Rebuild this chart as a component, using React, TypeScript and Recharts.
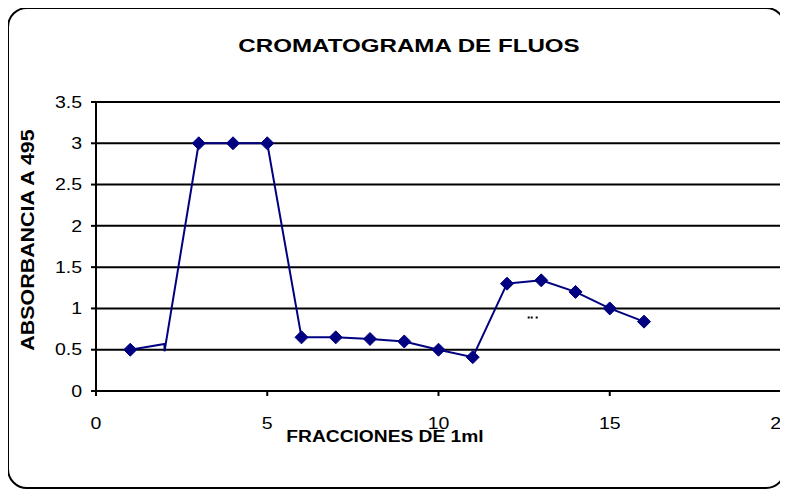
import {
  CartesianGrid,
  Line,
  LineChart,
  ReferenceDot,
  ReferenceLine,
  XAxis,
  YAxis,
} from "recharts";

// Fraction number (1 ml each) and absorbance at 495 nm.
// Fraction 2 appears twice: the original draws a short vertical stroke there, no marker.
const FRACTIONS = [1, 2, 2, 3, 4, 5, 6, 7, 8, 9, 10, 11, 12, 13, 14, 15, 16];
const ABSORBANCE = [0.5, 0.57, 0.48, 3, 3, 3, 0.65, 0.65, 0.63, 0.6, 0.5, 0.41, 1.3, 1.34, 1.2, 1.0, 0.84];
const NO_MARKER = [2];

const X_TICKS = [0, 5, 10, 15, 20];
const Y_TICKS = [0, 0.5, 1, 1.5, 2, 2.5, 3, 3.5];

const TITLE = "CROMATOGRAMA DE FLUOS";
const X_LABEL = "FRACCIONES DE 1ml";
const Y_LABEL = "ABSORBANCIA A  495";

const NAVY = "#000080";
const FONT = "Arial, 'Liberation Sans', sans-serif";
const STRETCH = 1.22; // the source text is drawn a bit wide

const data = FRACTIONS.map((f, i) => ({ fraccion: f, abs: ABSORBANCE[i] }));

function Diamond(props: any) {
  const { cx, cy, payload, index } = props;
  if (NO_MARKER.includes(payload.fraccion) || cx == null) return <g key={index} />;
  const r = 6.5;
  return (
    <path
      key={index}
      d={`M${cx},${cy - r}L${cx + r},${cy}L${cx},${cy + r}L${cx - r},${cy}Z`}
      fill={NAVY}
      stroke={NAVY}
    />
  );
}

function XTick(props: any) {
  const { x, y, payload } = props;
  return (
    <g transform={`translate(${x},${y})`}>
      <text
        transform={`scale(${STRETCH},1)`}
        textAnchor="middle"
        dy={31}
        fontFamily={FONT}
        fontSize={16}
        fill="#000"
      >
        {payload.value}
      </text>
    </g>
  );
}

function YTick(props: any) {
  const { x, y, payload } = props;
  return (
    <g transform={`translate(${x},${y})`}>
      <text
        transform={`scale(${STRETCH},1)`}
        textAnchor="end"
        dy="0.36em"
        fontFamily={FONT}
        fontSize={16}
        fill="#000"
      >
        {payload.value}
      </text>
    </g>
  );
}

export default function App() {
  return (
    <div style={{ position: "relative", width: 788, height: 491, margin: "-8px 0 0 -8px", fontFamily: FONT }}>
      <div
        style={{
          position: "absolute",
          left: 7,
          top: 7,
          width: 779,
          height: 482,
          boxSizing: "border-box",
          border: "2px solid #000",
          borderRadius: 20,
          background: "#fff",
        }}
      />
      <div style={{ position: "absolute", inset: 0 }}>
        <LineChart
          width={788}
          height={491}
          data={data}
          margin={{ top: 102, right: 7, bottom: 60, left: 56 }}
        >
          <CartesianGrid horizontal vertical={false} stroke="#000" strokeWidth={2} />
          <XAxis
            dataKey="fraccion"
            type="number"
            domain={[0, 20]}
            ticks={X_TICKS}
            interval={0}
            tickSize={5}
            tickMargin={2}
            axisLine={{ stroke: "#000", strokeWidth: 2 }}
            tickLine={{ stroke: "#000", strokeWidth: 2 }}
            tick={<XTick />}
            height={40}
          />
          <YAxis
            dataKey="abs"
            type="number"
            domain={[0, 3.5]}
            ticks={Y_TICKS}
            interval={0}
            width={40}
            tickSize={5}
            tickMargin={9}
            axisLine={{ stroke: "#000", strokeWidth: 2 }}
            tickLine={{ stroke: "#000", strokeWidth: 2 }}
            tick={<YTick />}
          />
          <ReferenceLine x={20} stroke="#000" strokeWidth={2} ifOverflow="visible" />
          <Line
            type="linear"
            dataKey="abs"
            stroke={NAVY}
            strokeWidth={2}
            dot={Diamond}
            activeDot={false}
            isAnimationActive={false}
          />
          <ReferenceDot
            x={12.75}
            y={0.89}
            ifOverflow="visible"
            shape={(p: any) => (
              <g>
                <rect x={p.cx - 5} y={p.cy - 1} width={2} height={2} fill="#000" />
                <rect x={p.cx - 2} y={p.cy - 1} width={2} height={2} fill="#000" />
                <rect x={p.cx + 3} y={p.cy - 1} width={2} height={2} fill="#000" />
              </g>
            )}
          />
        </LineChart>
      </div>
      <div
        style={{
          position: "absolute",
          left: 409,
          top: 35,
          transform: `translateX(-50%) scaleX(1.27)`,
          fontSize: 19,
          fontWeight: "bold",
          lineHeight: "22px",
          whiteSpace: "nowrap",
        }}
      >
        {TITLE}
      </div>
      <div
        style={{
          position: "absolute",
          left: 385,
          top: 427,
          transform: `translateX(-50%) scaleX(1.2)`,
          fontSize: 16,
          fontWeight: "bold",
          lineHeight: "20px",
          whiteSpace: "nowrap",
        }}
      >
        {X_LABEL}
      </div>
      <div
        style={{
          position: "absolute",
          left: 28,
          top: 240,
          transform: `translate(-50%, -50%) rotate(-90deg) scaleX(1.19)`,
          fontSize: 18,
          fontWeight: "bold",
          lineHeight: "20px",
          whiteSpace: "nowrap",
        }}
      >
        {Y_LABEL}
      </div>
    </div>
  );
}
